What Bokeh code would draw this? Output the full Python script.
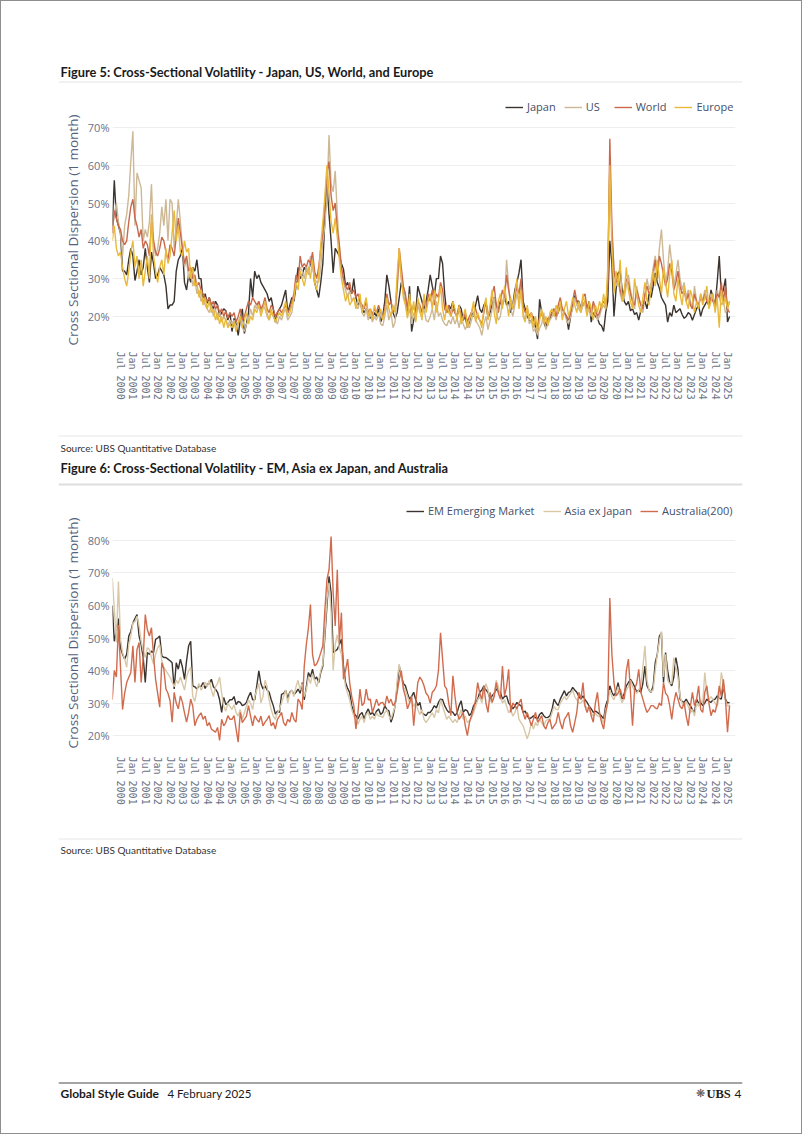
from math import pi
import pandas as pd
from bokeh.plotting import figure
from bokeh.models import (Range1d, FixedTicker, PrintfTickFormatter, Legend,
                          LegendItem, Label, Span, Title)
from bokeh.embed import file_html
from bokeh.resources import INLINE

# ------------------------------------------------------------------ data
months = pd.date_range("2000-03-01", periods=300, freq="MS")
month_labels = [d.strftime("%b %Y") for d in months]
tick_labels = (["Jul 2000"]
               + [f"{m} {y}" for y in range(2001, 2025) for m in ("Jan", "Jul")]
               + ["Jan 2025"])

# Figure 5 (cross-sectional dispersion, %)
japan = [
    44, 56, 46, 44, 42, 32, 32, 31, 35, 38,
    36, 29.5, 32, 35, 31, 33, 38, 33, 29, 37, 34, 30,
    31, 33, 32, 31, 28, 22, 23, 23, 24, 32, 35, 36,
    38, 29, 27, 31, 29, 33, 32, 35, 30, 30, 24, 26,
    23.5, 25, 23, 22, 24, 23, 20, 21, 22, 21.5, 19, 21,
    16, 19.5, 18, 15, 19, 22, 15.5, 18, 21, 30, 25, 32,
    30, 31, 29, 28, 27, 26, 24, 25, 22, 18.5, 21, 22,
    23, 25, 27, 21, 23, 25, 24, 28, 33, 30, 31, 33,
    32, 32, 34, 35, 29, 27, 25, 29, 34, 46, 55, 47,
    40, 31.5, 38, 37, 36, 34, 32.5, 28, 29, 27, 26, 30,
    25, 23, 24, 22, 21, 22, 21, 19.5, 20, 21, 20, 22,
    18.5, 20, 24, 31, 28, 24, 21, 19.5, 21, 25, 29, 27,
    24, 21, 28, 16, 19, 21, 28, 26, 24, 22, 24, 27,
    31, 28, 25.5, 30, 30, 36, 34, 26, 21, 23, 22, 24,
    21, 20, 23, 22, 19, 20, 17, 18.5, 21, 20, 23, 25.5,
    22, 21, 23, 24, 19.5, 21, 23, 25, 23, 22, 24, 23,
    25.5, 23, 24, 21, 23, 27, 29, 31.5, 35, 24, 22, 20,
    19, 18.5, 20, 17, 14, 24.5, 21, 18.5, 17, 19, 19.5, 21,
    22, 20, 21, 23, 22, 21, 20, 16.5, 20, 23, 25.5, 24,
    24, 22, 23, 24, 22, 24, 18.5, 21, 20, 19.5, 18, 17.5,
    16, 21, 24, 40, 34, 20, 27, 31.5, 32, 27, 24, 23,
    24, 21.5, 22, 20.5, 21, 19, 21.5, 23, 24, 22, 26, 25,
    28, 31.5, 29, 27.5, 25, 24, 23, 18.5, 21, 20, 23, 21,
    21.5, 22, 20.5, 19.5, 20, 21, 20.5, 19, 20.5, 22, 23, 20,
    22, 23, 24, 23, 27, 25, 23, 29, 36, 25.5, 27, 30,
    18.5, 20,
]
us = [
    43, 47, 50, 45, 42, 36, 44, 47, 52, 61,
    69, 44, 58, 56, 54, 40, 43, 41, 45, 55, 40, 36,
    38, 42, 49, 44, 51, 40, 51, 50, 38, 44, 51, 45,
    38, 33, 35, 30, 32, 28, 30, 26, 27, 24, 25, 23,
    22, 21, 23, 20, 22, 19, 21, 18.5, 20, 19, 17.5, 19,
    18, 19, 17, 18.5, 20, 17, 16, 18, 19, 22, 20, 23,
    22, 24, 21, 23, 22, 20, 19, 21, 20, 19, 18, 20,
    19, 21, 22, 19, 20, 21, 25, 30, 29, 33, 32, 30,
    33, 31, 36, 33, 30, 29, 29, 33, 40, 44, 52, 68,
    55, 53, 58.5, 47, 38, 33, 29, 27, 25, 27, 24, 25,
    23, 22, 24, 21, 20, 22, 19, 21, 18.5, 20, 19, 21,
    18, 17.5, 20, 23, 19, 21, 17, 18.5, 27, 36, 30, 27,
    24, 20, 22, 18, 21, 19, 23, 21, 20, 22, 19, 18.5,
    20, 22, 19, 24, 20, 21, 19, 18, 17.5, 19, 18, 20,
    18, 19.5, 17, 20, 18, 16.5, 18, 17, 19, 21, 19, 18,
    17, 15, 18, 20, 16.5, 19, 22, 25, 21, 19, 20, 24,
    24, 35, 28, 22, 20, 23, 26, 24, 29, 21, 19, 22,
    18, 19, 16, 17, 15, 17, 18, 21, 16.5, 18, 19, 20,
    21, 19, 22, 24, 20, 21, 19, 18, 20, 22, 25, 23,
    22, 21, 23, 24, 21, 22, 20, 23, 21, 19, 20, 22,
    23, 22, 30, 60, 42, 33, 28, 30, 26, 24, 25, 28,
    31, 27, 24, 22, 28, 25, 23, 21, 25, 30, 27, 29,
    33, 36, 31, 38, 43, 35, 29, 32, 39, 34, 28, 31,
    35, 30, 27, 29, 25, 27, 24, 22, 28, 24, 23, 26,
    24, 27, 25, 23, 26, 24, 22, 27, 25, 23, 24, 21,
    22, 24,
]
world = [
    42, 48, 46, 44, 43, 40, 39, 40, 45, 49,
    51, 46, 44, 41, 43, 38, 40, 39, 36, 45, 40, 37,
    36, 38, 41, 40, 37, 35, 39, 38, 36, 41, 46, 42,
    38, 34, 36, 32, 33, 30, 31, 28, 29, 27, 26, 25,
    24, 25, 23, 24, 22, 23, 21, 22, 20, 21.5, 19.5, 21,
    20, 21, 18.5, 20, 22, 19, 20, 22, 24, 23, 25, 24,
    23, 24, 22, 23, 25, 22, 21, 23, 22, 20, 21, 22,
    21, 22, 23, 21, 22, 24, 26, 31, 29, 36, 33, 34,
    33, 35, 34, 37, 32, 30, 33, 38, 42, 50, 58, 61,
    52, 48, 50, 43, 39, 33, 30, 28, 27, 29, 26, 27,
    25, 26, 24, 23, 22, 24, 21, 22, 20.5, 22, 21, 23,
    21, 20, 22, 26, 23, 24, 21, 22, 28, 38, 33, 28,
    26, 22, 25, 21, 23, 20, 24, 23, 21, 25, 22, 26,
    24, 27, 23, 26, 25, 29, 27, 22, 21, 23, 20, 22,
    21, 20, 22, 20.5, 19, 21, 18.5, 20, 21, 23, 22, 20,
    19, 18, 21, 24, 20, 22, 26, 28, 23, 21, 24, 27,
    25, 31, 27, 24, 22, 25, 28, 26, 30, 23, 21, 22,
    20, 21, 19, 18.5, 17, 20, 21, 19, 18, 19.5, 20, 21,
    22, 20, 23, 25, 22, 21, 20, 19, 21, 24, 27, 24,
    23, 22, 25, 26, 22, 23, 21, 24, 22, 20, 21, 23,
    24, 23, 28, 67, 44, 32, 29, 31, 27, 25, 27, 30,
    29, 26, 24, 23, 27, 25, 23, 22, 26, 28, 26, 27,
    31, 35, 30, 36, 34, 31, 28, 30, 34, 32, 27, 29,
    32, 28, 26, 27, 24, 26, 23, 22, 26, 24, 23, 25,
    24, 26, 24, 23, 25, 24, 23, 26, 25, 29, 24, 28,
    22, 21,
]
europe = [
    40, 44, 38, 36, 37, 33, 30, 28, 32, 37,
    40, 33, 36, 30, 35, 28, 32, 36, 30, 47, 36, 32,
    29, 33, 35, 31, 38, 34, 36, 42, 48, 40, 44, 37,
    36, 40, 37, 38, 30, 33, 28, 29, 25, 27, 23, 25,
    22, 24, 21, 22, 19, 21, 18, 20, 17, 19.5, 17, 18,
    17, 18.5, 16, 18, 20, 17, 19, 21, 18, 20, 19, 22,
    21, 23, 20, 22, 24, 21, 19, 22, 20, 18.5, 20, 21,
    20, 22, 24, 20, 21, 23, 25, 29, 27, 32, 30, 28,
    31, 33, 30, 35, 29, 27, 31, 39, 45, 52, 60, 53,
    45, 42, 46, 41, 35, 30, 27, 24, 26, 23, 24, 25,
    22, 24, 26, 21, 23, 25, 20, 22, 19, 23, 21, 20,
    22, 19, 21, 25, 22, 20, 23, 21, 31, 38, 30, 25,
    23, 19.5, 26, 20, 24, 18.5, 25, 22, 19, 26, 21, 24,
    26, 22, 27, 21, 24, 28, 22, 19, 23, 21, 20, 24,
    22, 19, 23, 18, 20, 22, 17, 19, 21, 24, 18.5, 21,
    19, 17, 22, 25, 19, 23, 27, 21, 18, 24, 26, 22,
    28, 24, 20, 25, 22, 26, 30, 22, 27, 20, 18.5, 23,
    19, 21, 17, 20, 16, 19, 22, 18, 20, 17.5, 21, 22,
    20, 23, 21, 24, 19, 22, 24, 20, 22, 25, 23, 21,
    24, 21, 26, 23, 20, 24, 22, 19, 23, 21, 24, 22,
    26, 22, 33, 60, 38, 26, 32, 28, 35, 24, 26, 33,
    27, 24, 22, 30, 26, 23, 21, 25, 29, 24, 23, 28,
    32, 28, 35, 30, 26, 33, 29, 25, 31, 35, 26, 24,
    30, 26, 23, 28, 24, 22, 27, 25, 21, 24, 22, 26,
    23, 25, 28, 22, 24, 26, 21, 25, 17, 27, 23, 25,
    22, 24,
]

# Figure 6 (cross-sectional dispersion, %)
em = [
    60, 49, 52, 56, 47, 45, 43.5, 45, 50.6, 52,
    54.7, 56, 57.2, 50.6, 48, 44, 36.3, 45.5, 45, 46, 45.5, 49.6,
    50, 50.6, 44.5, 44, 44, 43.5, 43, 42.4, 34.3, 42.4, 40.4, 43.5,
    41, 37.3, 43, 47.6, 49, 35.3, 35, 34.3, 35.3, 35, 36.3, 34.5,
    35.8, 36, 37.3, 35, 34.3, 33.3, 31, 27.1, 31.7, 29.5, 30.2, 31,
    31, 32, 29.5, 30.5, 30.2, 29.2, 29.5, 30.2, 32, 33.3, 31, 31,
    35.3, 39.9, 36, 34.3, 35.3, 34, 33.3, 31, 29.2, 26.6, 27.5, 27.1,
    32.7, 33, 33.9, 31.5, 33.3, 33.9, 32.5, 33.3, 34.3, 33, 36.3, 31,
    35, 39.4, 38, 40.4, 37.3, 38, 36.3, 39.4, 41.4, 50.6, 60, 69,
    64, 45.5, 46, 46.5, 48, 49.6, 41.4, 36.3, 34.5, 33.3, 29.2, 27,
    26.1, 25.1, 26.5, 27.1, 25.1, 27, 28.2, 26.5, 27.1, 26.1, 27.5, 28.2,
    26.5, 27.1, 29.2, 28, 27.6, 24.1, 26, 29.2, 35, 41.4, 38.4, 36,
    35.3, 33, 31.2, 32, 33.3, 31, 29.2, 30.2, 27.1, 26.5, 26.1, 27.1,
    27.1, 28, 29.2, 28.5, 30.2, 31.2, 31, 29.2, 28, 27.1, 27.5, 27.1,
    26.1, 27, 29.2, 30.7, 27.1, 28, 27.6, 26.1, 27, 29.2, 30, 31.2,
    33.3, 34, 35.3, 34, 33.3, 31.2, 32.2, 33, 34.3, 33.5, 33.3, 31.2,
    32, 32.2, 30, 29.2, 28.2, 29, 30.2, 29.5, 29.2, 27.1, 27.5, 26.1,
    25.1, 25.5, 26.1, 25.5, 25.1, 26.5, 27.1, 26.1, 25.5, 25.6, 26.1, 28,
    31.2, 30, 29.2, 31.2, 32.5, 33.8, 32.2, 33.3, 33.5, 34.8, 34, 33.3,
    32, 31.2, 32.2, 31, 30.2, 29, 28.2, 27.1, 27.5, 27.1, 26.6, 26,
    25.1, 29.2, 31, 35.3, 33.3, 32.2, 33.5, 36.3, 33, 31.2, 33, 35.3,
    36.3, 37.3, 36.3, 35, 33.3, 34, 33.3, 36, 41.4, 35.3, 34, 33.3,
    35.3, 42.4, 45, 50.6, 51.6, 36.3, 45.5, 40, 36.3, 35.3, 38, 44,
    40.4, 31.2, 30.5, 30.2, 31.2, 30, 29.2, 28, 27.1, 31.2, 30, 30.2,
    29.2, 30, 31.2, 30.5, 30.2, 31, 31.2, 32.2, 31.5, 31.2, 35.3, 31.2,
    30, 30.2,
]
asia_ex_japan = [
    68.5, 59, 48.6, 67.4, 49.6, 45.5, 43.5, 41, 48, 50.6,
    54.7, 55, 56.7, 53.7, 49, 46, 44, 47, 46.5, 44, 42, 45,
    47, 48, 43, 41, 40, 39, 38, 36.5, 35, 37, 36, 38,
    36, 34, 38, 40, 41, 32, 30.5, 34, 36, 34, 35, 36.5,
    35, 37, 34, 32, 35, 36, 38, 33, 29, 27.5, 30, 29,
    28, 29.5, 27, 26, 28, 25, 27, 29, 31, 30, 28, 32,
    34, 36, 30, 32, 37, 35, 31, 28, 26, 25, 27, 28,
    30, 32, 34, 30, 33, 34, 32, 35, 37, 34, 36, 32,
    34, 38, 36, 39, 37, 35, 37, 40, 42, 52, 62, 67,
    58, 40, 48, 51, 47, 45, 40, 35, 33, 31, 28, 26,
    25, 23.5, 25, 26, 24, 26.5, 27, 25, 26, 25, 27, 26,
    26, 25.5, 27, 28, 26, 25, 27, 29, 37, 42, 38, 35,
    34, 32, 30, 31, 29, 30, 28, 26.5, 28, 25, 24, 25,
    26, 27, 25.5, 28, 27, 31, 29, 27, 25, 26, 25, 24,
    25, 24, 26, 28, 25, 26, 24, 24.5, 25.5, 27, 29, 31,
    32, 30, 33, 36, 34, 31, 30, 33, 37, 35, 32, 30,
    31, 29, 27, 28, 26, 27, 29, 25, 24, 23, 21, 19,
    21, 24, 22, 24, 23, 25, 24, 23, 24.5, 25, 25, 27,
    29, 28, 28, 30, 31, 32, 31, 32, 33, 34, 32, 31,
    30, 30, 31, 29, 28.5, 28, 27, 26, 27, 26, 26, 25,
    24, 28, 30, 34, 32, 31, 33, 35, 32, 30, 32, 34,
    35, 37, 35, 34, 33, 34, 35, 41, 47.6, 37, 34, 33.5,
    34, 40, 45, 49, 52, 38, 45, 37, 36, 36, 44, 41,
    38, 32, 30, 29, 30.5, 29, 27, 28, 26, 30, 29, 31,
    30, 39.4, 33, 31, 32, 31, 30, 29, 32, 39.4, 36, 31,
    29, 29.5,
]
australia_200 = [
    31, 40, 38, 54, 41, 28, 33, 36.3, 37.9, 39.4,
    47.6, 36.3, 46.5, 48.6, 36.3, 44, 57.2, 52.6, 50.6, 53.2, 44.5, 37.3,
    33, 28.7, 42.4, 40.4, 34.3, 33, 30.7, 24.1, 33.3, 30, 28.2, 32.2,
    30.2, 27, 24.1, 27.1, 31.2, 29, 23, 25, 26.1, 27, 25, 26,
    23, 24, 22, 21.5, 21, 22.5, 18.5, 25, 23, 24, 26.1, 25,
    25, 26.1, 22, 18, 27.1, 24, 25, 26, 29.2, 26, 23, 26.1,
    25, 24.1, 26, 23, 24.1, 25, 26.1, 23, 24, 22, 25, 26,
    27.1, 24, 23, 25, 24.1, 27.1, 25, 24.1, 31.2, 30.2, 28, 41.4,
    48, 53, 60.3, 45, 41.4, 42, 43.5, 45.5, 47.6, 58.8, 68, 71,
    81.2, 63.9, 53.7, 71, 48.6, 57.8, 37.3, 40, 43.5, 36.3, 32, 29.2,
    22, 27, 34.3, 29.2, 30, 34.3, 31, 31.2, 27.1, 29, 31.2, 29.2,
    30, 30.2, 29, 32.2, 30, 31.2, 29.2, 30, 33.3, 37.3, 40, 34.3,
    32, 28.2, 30, 32.2, 23, 30, 36.3, 38, 37, 35.3, 33, 32.2,
    30, 33.3, 34, 35.3, 40, 51.6, 43.5, 35.3, 34.3, 30, 26.1, 38.4,
    32, 27.1, 25, 26, 27.1, 23, 20, 24, 26.1, 28.2, 31, 36.3,
    33, 31.2, 35.3, 30, 27.1, 33.3, 30.2, 32, 36.3, 33, 31.2, 41.4,
    32.2, 35, 40.4, 27.1, 30, 29.2, 28.2, 30, 31.2, 27, 25, 27.1,
    25, 23, 25, 27.1, 24.1, 25, 26.1, 23, 22, 24, 25, 22,
    23, 24, 27.1, 24, 22, 25, 26, 27.1, 23, 21, 24, 27.1,
    33.3, 31.2, 36.3, 29, 27.1, 29.2, 26, 24.1, 30, 33.3, 27.1, 24,
    22, 27, 30.2, 62.3, 45, 36.3, 32.2, 33, 34.3, 32, 31.2, 40,
    43.5, 33.3, 23, 34.3, 36, 40.4, 33.3, 31.2, 29, 27.1, 28, 29.2,
    29.2, 28.5, 28.2, 30, 29.2, 36.3, 33, 32.2, 29.2, 25, 30, 33.3,
    31.2, 29, 28.2, 30.2, 26, 23, 29, 33.3, 29.2, 31, 35.3, 28,
    27.1, 33.3, 35.3, 30, 26.1, 28, 27.1, 30, 35.3, 32, 37.3, 31.2,
    21, 29.2,
]

fig5_names = ["Japan", "US", "World", "Europe"]
fig5_series = [japan, us, world, europe]
fig5_colors = ["#3b332e", "#cdb896", "#c9694c", "#e9b93a"]
fig5_ticks = [20, 30, 40, 50, 60, 70]

fig6_names = ["EM Emerging Market", "Asia ex Japan", "Australia(200)"]
fig6_series = [em, asia_ex_japan, australia_200]
fig6_colors = ["#3b332e", "#d8c8a8", "#d16b4d"]
fig6_ticks = [20, 30, 40, 50, 60, 70, 80]

fig5_title = "Figure 5: Cross-Sectional Volatility - Japan, US, World, and Europe"
fig6_title = "Figure 6: Cross-Sectional Volatility - EM, Asia ex Japan, and Australia"
source_text = "Source: UBS Quantitative Database"
y_title = "Cross Sectional Dispersion (1 month)"

for s in fig5_series + fig6_series:
    assert len(s) == len(months), len(s)

# ------------------------------------------------------------------ styling
W = 802
UI = "Open Sans"
DOC = "Lato"
BORDER = "#8e8e8e"
x_idx = list(range(len(months)))
tick_pos = [month_labels.index(t) for t in tick_labels]


def frame_styles(top=False, bottom=False):
    sh = [f"inset 1px 0 0 {BORDER}", f"inset -1px 0 0 {BORDER}"]
    if top:
        sh.append(f"inset 0 1px 0 {BORDER}")
    if bottom:
        sh.append(f"inset 0 -1px 0 {BORDER}")
    return {"vertical-align": "top", "box-shadow": ", ".join(sh)}


def chart(series, names, colors, yr, yticks, height, b_top, b_bot, leg_xy, title_shift):
    p = figure(width=W, height=height,
               x_range=Range1d(0.125, 301.87), y_range=Range1d(*yr),
               output_backend="svg", toolbar_location=None,
               min_border_left=112, min_border_right=67,
               min_border_top=b_top, min_border_bottom=b_bot,
               styles=frame_styles())
    p.outline_line_color = None
    p.border_fill_alpha = 0
    p.background_fill_alpha = 0
    p.xgrid.grid_line_color = None
    p.ygrid.grid_line_color = "#eeeeee"
    p.ygrid.grid_line_width = 1

    p.yaxis.ticker = FixedTicker(ticks=yticks)
    p.yaxis.formatter = PrintfTickFormatter(format="%d%%")
    p.yaxis.major_label_text_font = UI
    p.yaxis.major_label_text_font_size = "11px"
    p.yaxis.major_label_text_color = "#68728a"
    p.yaxis.major_label_standoff = 3

    p.add_layout(Title(text=y_title, align="left", offset=title_shift,
                       text_font=UI, text_font_style="normal",
                       text_font_size="13.5px", text_color="#54627e",
                       standoff=6), "left")

    p.xaxis.ticker = FixedTicker(ticks=tick_pos)
    p.xaxis.major_label_overrides = {i: t for i, t in zip(tick_pos, tick_labels)}
    p.xaxis.major_label_orientation = -pi / 2
    p.xaxis.major_label_text_font = "DejaVu Sans Mono"
    p.xaxis.major_label_text_font_size = "10px"
    p.xaxis.major_label_text_color = "#6b7385"
    p.xaxis.major_label_standoff = 6

    for ax in (p.xaxis, p.yaxis):
        ax.axis_line_color = None
        ax.major_tick_line_color = None
        ax.minor_tick_line_color = None
        ax.major_tick_out = 0
        ax.major_tick_in = 0

    items = []
    for s, n, c in zip(series, names, colors):
        r = p.line(x_idx, s, line_color=c, line_width=1.4)
        items.append(LegendItem(label=n, renderers=[r]))
    leg = Legend(items=items, orientation="horizontal", location=leg_xy,
                 glyph_width=18, glyph_height=12, label_standoff=4, spacing=8,
                 padding=0, margin=0, border_line_color=None,
                 background_fill_alpha=0, label_text_font=UI,
                 label_text_font_size="11px", label_text_color="#454f66",
                 label_height=12)
    p.add_layout(leg)
    return p


def decor(y_top, y_bot, top=False, bottom=False):
    p = figure(width=W, height=y_bot - y_top,
               x_range=Range1d(58, 742), y_range=Range1d(y_bot, y_top),
               output_backend="svg", toolbar_location=None,
               x_axis_location=None, y_axis_location=None,
               min_border_left=58, min_border_right=60,
               min_border_top=0, min_border_bottom=0,
               styles=frame_styles(top, bottom))
    p.grid.visible = False
    p.outline_line_color = None
    p.border_fill_alpha = 0
    p.background_fill_alpha = 0
    return p


def text(p, x, y, s, size, bold=False, font=DOC, color="#1a1a1a", align="left"):
    p.add_layout(Label(x=x, y=y, text=s, text_font=font, text_font_size=f"{size}px",
                       text_font_style="bold" if bold else "normal",
                       text_color=color, text_align=align,
                       text_baseline="middle"))


def rule(p, y, color, width=1):
    p.add_layout(Span(location=y, dimension="width", line_color=color,
                      line_width=width))


# header of figure 5 (page y 0..88)
h1 = decor(0, 88, top=True)
text(h1, 60, 71, fig5_title, 12.8, bold=True)
rule(h1, 81.5, "#e4e4e4")

# figure 5 chart (page y 88..432): frame 100..345
c1 = chart(fig5_series, fig5_names, fig5_colors, (12.3, 77.14), fig5_ticks,
           344, 12, 87, (393, 231), 0)

# source + header of figure 6 (page y 432..490)
h2 = decor(432, 490)
rule(h2, 435.5, "#e6e6e6")
text(h2, 60, 447, source_text, 10, color="#333333")
text(h2, 60, 467, fig6_title, 12.8, bold=True)
rule(h2, 484, "#dedede", 2)

# figure 6 chart (page y 490..830): frame 500..750
c2 = chart(fig6_series, fig6_names, fig6_colors, (15.4, 92.3), fig6_ticks,
           340, 10, 80, (294, 232), 2)

# source + footer (page y 830..1134)
h3 = decor(830, 1134, bottom=True)
rule(h3, 838.5, "#e6e6e6")
text(h3, 60, 849, source_text, 10, color="#333333")
rule(h3, 1082.5, "#4a4a4a")
text(h3, 60, 1093, "Global Style Guide", 12, bold=True)
text(h3, 167, 1093, "4 February 2025", 11.5)
text(h3, 700, 1093, "\u274b", 11, font="DejaVu Sans", color="#555555", align="center")
text(h3, 706, 1093, "UBS", 12.5, bold=True, font="Liberation Serif", color="#222222")
text(h3, 741, 1093, "4", 12, align="right")

open("out.html", "w").write(file_html([h1, c1, h2, c2, h3], INLINE))
